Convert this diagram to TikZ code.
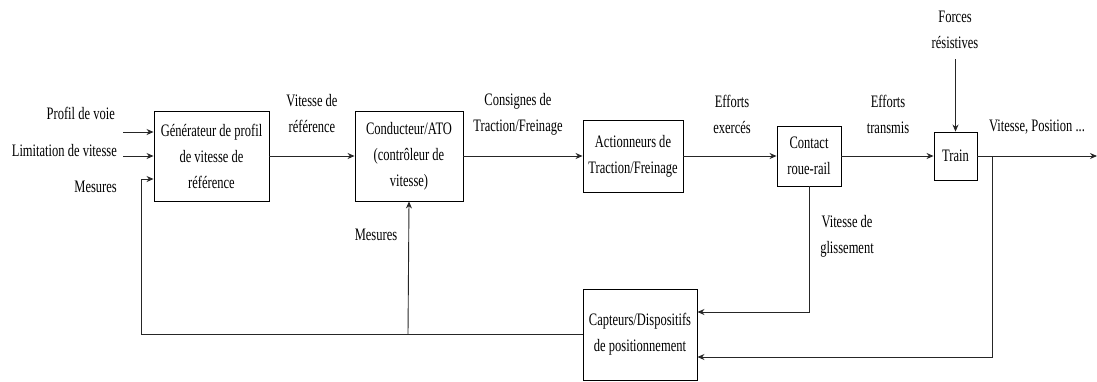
\documentclass[tikz,border=0pt]{standalone}
\usepackage{fontspec}
\setmainfont{Liberation Serif}[FakeStretch=0.715]
\usetikzlibrary{arrows.meta}
\begin{document}
\begin{tikzpicture}[x=1pt,y=-1pt,
  every node/.style={font=\fontsize{17.5}{26}\selectfont, align=center, inner sep=0pt},
  blk/.style={draw, line width=0.9pt},
  lbl/.style={},
  conn/.style={line width=0.9pt, draw=black!85},
  arr/.style={conn, -{Stealth[length=7pt,width=6pt]}}]
\useasboundingbox (0,0) rectangle (1097,381);
% blocks
\node[blk, minimum width=115pt, minimum height=90pt] (g1) at (211.5,156) {Générateur de profil\\de vitesse de\\référence};
\node[blk, minimum width=108pt, minimum height=90pt] (c2) at (409,156) {Conducteur/ATO\\(contrôleur de\\vitesse)};
\node[blk, minimum width=100pt, minimum height=72pt] (a3) at (633,156) {Actionneurs de\\Traction/Freinage};
\node[blk, minimum width=64pt, minimum height=60pt] (r4) at (809,156) {Contact\\roue-rail};
\node[blk, minimum width=43pt, minimum height=48pt] (t5) at (955.5,156) {Train};
\node[blk, minimum width=114pt, minimum height=91pt] (s6) at (640,334.5) {Capteurs/Dispositifs\\de positionnement};
% labels
\node[lbl, anchor=east] (lp) at (115,113) {Profil de voie};
\node[lbl, anchor=east] (ll) at (117,151) {Limitation de vitesse};
\node[lbl, anchor=east] (lm) at (117,187) {Mesures};
\node[lbl] (lv) at (312,114) {Vitesse de\\référence};
\node[lbl] (lc) at (518,114) {Consignes de\\Traction/Freinage};
\node[lbl] (le) at (732,114) {Efforts\\exercés};
\node[lbl] (lt) at (888,114) {Efforts\\transmis};
\node[lbl] (lf) at (955,30) {Forces\\résistives};
\node[lbl] (lo) at (1037,127) {Vitesse, Position ...};
\node[lbl] (lg) at (847,236) {Vitesse de\\glissement};
\node[lbl] (lm2) at (376,235) {Mesures};
% coordinates
\coordinate (in1) at (123,132);
\coordinate (in2) at (123,156);
\coordinate (fbl) at (141,334);
\coordinate (fbm) at (141,179);
\coordinate (br) at (408,334);
\coordinate (cs) at (809,312);
\coordinate (ob) at (992,156);
\coordinate (obd) at (992,357);
\coordinate (out) at (1097,156);
\coordinate (ftop) at (955.5,59);
% connectors
\draw[arr] (in1) -- (g1.west |- in1);
\draw[arr] (in2) -- (g1.west |- in2);
\draw[arr] (s6.west |- fbl) -- (fbl) -- (fbm) -- (g1.west |- fbm);
\draw[arr] (br) -- (c2.south);
\draw[arr] (g1.east) -- (c2.west);
\draw[arr] (c2.east) -- (a3.west);
\draw[arr] (a3.east) -- (r4.west);
\draw[arr] (r4.east) -- (t5.west);
\draw[arr] (ftop) -- (t5.north);
\draw[arr] (t5.east) -- (out);
\draw[arr] (r4.south) -- (cs) -- (s6.east |- cs);
\draw[arr] (ob) -- (obd) -- (s6.east |- obd);
\end{tikzpicture}
\end{document}
